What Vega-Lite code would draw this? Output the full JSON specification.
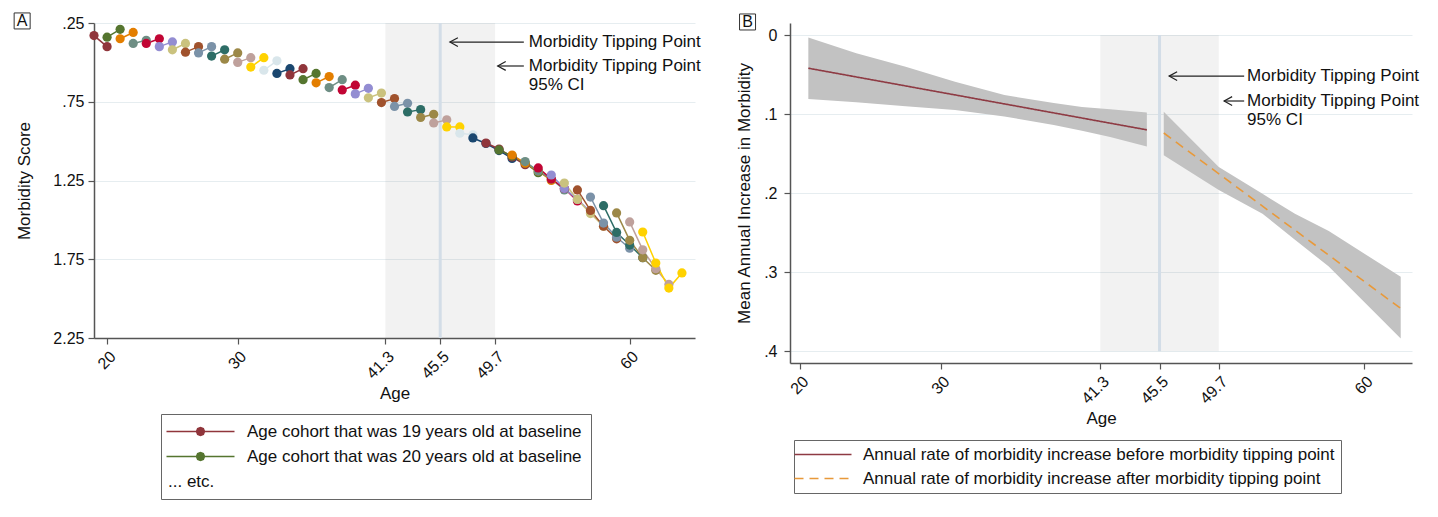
{
  "$schema": "https://vega.github.io/schema/vega-lite/v6.json",
  "padding": {"left": 12, "top": 10, "right": 5, "bottom": 5},
  "background": "white",
  "bounds": "flush",
  "spacing": 95,
  "config": {
    "font": "Liberation Sans",
    "view": {"stroke": null},
    "axis": {
      "labelFont": "Liberation Sans", "titleFont": "Liberation Sans",
      "labelFontSize": 16, "titleFontSize": 17, "titleFontWeight": "normal",
      "labelColor": "#111", "titleColor": "#111",
      "domainColor": "#555", "tickColor": "#555", "domainWidth": 1.5, "tickWidth": 1.2,
      "tickSize": 6, "labelPadding": 4, "gridColor": "#e6edf0", "gridWidth": 1
    },
    "legend": {"labelFont": "Liberation Sans", "labelFontSize": 17, "labelColor": "#111", "labelLimit": 0}
  },
  "resolve": {
    "scale": {"x": "independent", "y": "independent", "color": "independent", "strokeDash": "independent"},
    "legend": {"color": "independent", "strokeDash": "independent"}
  },
  "datasets": {
    "cohorts": [
      {"c":19,"age":19,"m":0.33},{"c":19,"age":20,"m":0.40},
      {"c":20,"age":20,"m":0.34},{"c":20,"age":21,"m":0.29},
      {"c":21,"age":21,"m":0.35},{"c":21,"age":22,"m":0.31},
      {"c":22,"age":22,"m":0.38},{"c":22,"age":23,"m":0.36},
      {"c":23,"age":23,"m":0.38},{"c":23,"age":24,"m":0.35},
      {"c":24,"age":24,"m":0.40},{"c":24,"age":25,"m":0.37},
      {"c":25,"age":25,"m":0.42},{"c":25,"age":26,"m":0.38},
      {"c":26,"age":26,"m":0.435},{"c":26,"age":27,"m":0.40},
      {"c":27,"age":27,"m":0.44},{"c":27,"age":28,"m":0.40},
      {"c":28,"age":28,"m":0.46},{"c":28,"age":29,"m":0.42},
      {"c":29,"age":29,"m":0.48},{"c":29,"age":30,"m":0.44},
      {"c":30,"age":30,"m":0.50},{"c":30,"age":31,"m":0.47},
      {"c":31,"age":31,"m":0.53},{"c":31,"age":32,"m":0.47},
      {"c":32,"age":32,"m":0.55},{"c":32,"age":33,"m":0.49},
      {"c":33,"age":33,"m":0.57},{"c":33,"age":34,"m":0.54},
      {"c":34,"age":34,"m":0.58},{"c":34,"age":35,"m":0.54},
      {"c":35,"age":35,"m":0.61},{"c":35,"age":36,"m":0.57},
      {"c":36,"age":36,"m":0.63},{"c":36,"age":37,"m":0.59},
      {"c":37,"age":37,"m":0.66},{"c":37,"age":38,"m":0.61},
      {"c":38,"age":38,"m":0.675},{"c":38,"age":39,"m":0.645},
      {"c":39,"age":39,"m":0.70},{"c":39,"age":40,"m":0.665},
      {"c":40,"age":40,"m":0.725},{"c":40,"age":41,"m":0.695},
      {"c":41,"age":41,"m":0.755},{"c":41,"age":42,"m":0.73},
      {"c":42,"age":42,"m":0.78},{"c":42,"age":43,"m":0.76},
      {"c":43,"age":43,"m":0.815},{"c":43,"age":44,"m":0.80},
      {"c":44,"age":44,"m":0.85},{"c":44,"age":45,"m":0.83},
      {"c":45,"age":45,"m":0.885},{"c":45,"age":46,"m":0.865},
      {"c":46,"age":46,"m":0.91},{"c":46,"age":47,"m":0.91},
      {"c":47,"age":47,"m":0.95},{"c":47,"age":48,"m":0.96},
      {"c":48,"age":48,"m":0.98},{"c":48,"age":49,"m":1.015},{"c":48,"age":50,"m":1.06},{"c":48,"age":51,"m":1.11},
      {"c":49,"age":49,"m":1.012},{"c":49,"age":50,"m":1.05},{"c":49,"age":51,"m":1.10},{"c":49,"age":52,"m":1.15},
      {"c":50,"age":50,"m":1.056},{"c":50,"age":51,"m":1.095},{"c":50,"age":52,"m":1.14},{"c":50,"age":53,"m":1.20},
      {"c":51,"age":51,"m":1.088},{"c":51,"age":52,"m":1.14},{"c":51,"age":53,"m":1.19},{"c":51,"age":54,"m":1.25},
      {"c":52,"age":52,"m":1.13},{"c":52,"age":53,"m":1.19},{"c":52,"age":54,"m":1.24},{"c":52,"age":55,"m":1.31},
      {"c":53,"age":53,"m":1.17},{"c":53,"age":54,"m":1.24},{"c":53,"age":55,"m":1.30},{"c":53,"age":56,"m":1.38},
      {"c":54,"age":54,"m":1.215},{"c":54,"age":55,"m":1.30},{"c":54,"age":56,"m":1.37},{"c":54,"age":57,"m":1.45},
      {"c":55,"age":55,"m":1.266},{"c":55,"age":56,"m":1.37},{"c":55,"age":57,"m":1.46},{"c":55,"age":58,"m":1.54},
      {"c":56,"age":56,"m":1.31},{"c":56,"age":57,"m":1.44},{"c":56,"age":58,"m":1.54},{"c":56,"age":59,"m":1.62},
      {"c":57,"age":57,"m":1.355},{"c":57,"age":58,"m":1.52},{"c":57,"age":59,"m":1.61},{"c":57,"age":60,"m":1.68},
      {"c":58,"age":58,"m":1.41},{"c":58,"age":59,"m":1.58},{"c":58,"age":60,"m":1.66},{"c":58,"age":61,"m":1.74},
      {"c":59,"age":59,"m":1.456},{"c":59,"age":60,"m":1.63},{"c":59,"age":61,"m":1.74},{"c":59,"age":62,"m":1.82},
      {"c":60,"age":60,"m":1.513},{"c":60,"age":61,"m":1.69},{"c":60,"age":62,"m":1.81},{"c":60,"age":63,"m":1.91},
      {"c":61,"age":61,"m":1.577},{"c":61,"age":62,"m":1.774},{"c":61,"age":63,"m":1.933},{"c":61,"age":64,"m":1.837}
    ],
    "bands": [
      {"series":"before","age":20.6,"v":0.003,"v2":0.081},
      {"series":"before","age":24,"v":0.023,"v2":0.085},
      {"series":"before","age":27.5,"v":0.040,"v2":0.090},
      {"series":"before","age":31,"v":0.059,"v2":0.095},
      {"series":"before","age":34.5,"v":0.076,"v2":0.103},
      {"series":"before","age":38,"v":0.086,"v2":0.114},
      {"series":"before","age":40,"v":0.091,"v2":0.121},
      {"series":"before","age":42,"v":0.094,"v2":0.129},
      {"series":"before","age":44.6,"v":0.098,"v2":0.141},
      {"series":"after","age":45.8,"v":0.097,"v2":0.152},
      {"series":"after","age":49.7,"v":0.167,"v2":0.196},
      {"series":"after","age":52.8,"v":0.201,"v2":0.226},
      {"series":"after","age":55.1,"v":0.226,"v2":0.259},
      {"series":"after","age":57.5,"v":0.248,"v2":0.293},
      {"series":"after","age":62.6,"v":0.306,"v2":0.384}
    ],
    "fits": [
      {"series":"Annual rate of morbidity increase before morbidity tipping point","age":20.6,"v":0.042},
      {"series":"Annual rate of morbidity increase before morbidity tipping point","age":44.6,"v":0.120},
      {"series":"Annual rate of morbidity increase after morbidity tipping point","age":45.8,"v":0.124},
      {"series":"Annual rate of morbidity increase after morbidity tipping point","age":62.6,"v":0.346}
    ]
  },
  "hconcat": [
    {
      "width": 601,
      "height": 315,
      "layer": [
        {
          "data": {"values": [{"age": 41.3, "age2": 49.7}]},
          "mark": {"type": "rect", "color": "#7f7f7f", "opacity": 0.1},
          "encoding": {
            "x": {"field": "age", "type": "quantitative",
              "scale": {"domain": [19, 65], "nice": false, "zero": false},
              "axis": {"title": "Age", "values": [20, 30, 41.3, 45.5, 49.7, 60], "labelAngle": -45, "labelExpr": "'' + datum.value", "grid": false, "titlePadding": 4}},
            "x2": {"field": "age2"}
          }
        },
        {
          "data": {"values": [{"age": 45.5}]},
          "mark": {"type": "rule", "color": "#d3dde7", "strokeWidth": 3},
          "encoding": {"x": {"field": "age", "type": "quantitative"}}
        },
        {
          "data": {"name": "cohorts"},
          "mark": {"type": "line", "strokeWidth": 1.5},
          "encoding": {
            "x": {"field": "age", "type": "quantitative"},
            "y": {"field": "m", "type": "quantitative",
              "scale": {"domain": [0.25, 2.25], "reverse": true, "nice": false, "zero": false},
              "axis": {"title": "Morbidity Score", "values": [0.25, 0.75, 1.25, 1.75, 2.25], "grid": true, "titlePadding": 19,
                "labelExpr": "datum.value < 1 ? replace(format(datum.value, '.2f'), '0.', '.') : format(datum.value, '.2f')"}},
            "color": {"field": "c", "type": "nominal",
              "scale": {"domain": [19,20,21,22,23,24,25,26,27,28,29,30,31,32,33,34,35,36,37,38,39,40,41,42,43,44,45,46,47,48,49,50,51,52,53,54,55,56,57,58,59,60,61],
                "range": ["#90353b","#55752f","#e37e00","#6e8e84","#c10534","#938dd2","#cac27e","#a0522d","#7b92a8","#2d6d66","#9c8847","#bfa19c","#ffd200","#d9e6eb","#1a476f"]},
              "legend": {"orient": "none", "legendX": 67, "legendY": 391, "title": null,
                "values": [19, 20, 999],
                "labelExpr": "datum.value == 999 ? '... etc.' : 'Age cohort that was ' + datum.value + ' years old at baseline'",
                "symbolType": "M-3,0H14M6.5,0L6.207,0.707L5.5,1L4.793,0.707L4.5,0L4.793,-0.707L5.5,-1L6.207,-0.707Z",
                "symbolSize": 64, "symbolStrokeWidth": 1.5, "labelOffset": 60, "labelLimit": 0,
                "strokeColor": "#666", "fillColor": "white", "padding": 9, "rowPadding": 7,
                "encode": {"labels": {"update": {"dx": {"signal": "datum.value == 999 ? -79 : 0"}}}}}
            }
          }
        },
        {
          "data": {"name": "cohorts"},
          "mark": {"type": "point", "filled": true, "size": 85, "opacity": 1},
          "encoding": {
            "x": {"field": "age", "type": "quantitative"},
            "y": {"field": "m", "type": "quantitative"},
            "color": {"field": "c", "type": "nominal"}
          }
        },
        {
          "data": {"values": [{"age": 46.24, "age2": 51.9, "m": 0.371}, {"age": 49.9, "age2": 51.9, "m": 0.523}]},
          "mark": {"type": "rule", "color": "#222", "strokeWidth": 1.2},
          "encoding": {
            "x": {"field": "age", "type": "quantitative"},
            "x2": {"field": "age2"},
            "y": {"field": "m", "type": "quantitative"}
          }
        },
        {
          "data": {"values": [{"age": 46.24, "m": 0.371}, {"age": 49.9, "m": 0.523}]},
          "mark": {"type": "point", "shape": "M2,-1.1L0,0L2,1.1", "size": 64, "filled": false, "stroke": "#222", "strokeWidth": 1.2, "opacity": 1},
          "encoding": {
            "x": {"field": "age", "type": "quantitative"},
            "y": {"field": "m", "type": "quantitative"}
          }
        },
        {
          "data": {"values": [
            {"age": 52.28, "m": 0.371, "t": "Morbidity Tipping Point"},
            {"age": 52.28, "m": 0.523, "t": "Morbidity Tipping Point"},
            {"age": 52.28, "m": 0.644, "t": "95% CI"}
          ]},
          "mark": {"type": "text", "align": "left", "baseline": "middle", "fontSize": 17, "color": "#111"},
          "encoding": {
            "x": {"field": "age", "type": "quantitative"},
            "y": {"field": "m", "type": "quantitative"},
            "text": {"field": "t"}
          }
        },
        {
          "data": {"values": [{"age": 13.5, "m": 0.237, "t": "A"}]},
          "mark": {"type": "point", "shape": "square", "size": 256, "filled": false, "stroke": "#333", "strokeWidth": 1, "opacity": 1},
          "encoding": {
            "x": {"field": "age", "type": "quantitative"},
            "y": {"field": "m", "type": "quantitative"}
          }
        },
        {
          "data": {"values": [{"age": 13.5, "m": 0.237, "t": "A"}]},
          "mark": {"type": "text", "align": "center", "baseline": "middle", "fontSize": 16, "color": "#111"},
          "encoding": {
            "x": {"field": "age", "type": "quantitative"},
            "y": {"field": "m", "type": "quantitative"},
            "text": {"field": "t"}
          }
        }
      ]
    },
    {
      "width": 622,
      "height": 340,
      "layer": [
        {
          "data": {"values": [{"age": 41.3, "age2": 49.7, "v": 0, "v2": 0.4}]},
          "mark": {"type": "rect", "color": "#7f7f7f", "opacity": 0.1},
          "encoding": {
            "x": {"field": "age", "type": "quantitative",
              "scale": {"domain": [19.3, 63.4], "nice": false, "zero": false},
              "axis": {"title": "Age", "values": [20, 30, 41.3, 45.5, 49.7, 60], "labelAngle": -45, "labelExpr": "'' + datum.value", "grid": false, "titlePadding": 4}},
            "x2": {"field": "age2"},
            "y": {"field": "v", "type": "quantitative",
              "scale": {"domain": [-0.0152, 0.415], "reverse": true, "nice": false, "zero": false},
              "axis": {"title": "Mean Annual Increase in Morbidity", "values": [0, 0.1, 0.2, 0.3, 0.4], "grid": true, "labelPadding": 7, "titlePadding": 10,
                "labelExpr": "datum.value == 0 ? '0' : replace(format(datum.value, '.1f'), '0.', '.')"}},
            "y2": {"field": "v2"}
          }
        },
        {
          "data": {"values": [{"age": 45.5, "v": 0, "v2": 0.4}]},
          "mark": {"type": "rule", "color": "#d3dde7", "strokeWidth": 3},
          "encoding": {
            "x": {"field": "age", "type": "quantitative"},
            "y": {"field": "v", "type": "quantitative"},
            "y2": {"field": "v2"}
          }
        },
        {
          "data": {"name": "bands"},
          "mark": {"type": "area", "color": "#c2c2c2", "opacity": 1},
          "encoding": {
            "x": {"field": "age", "type": "quantitative"},
            "y": {"field": "v", "type": "quantitative"},
            "y2": {"field": "v2"},
            "detail": {"field": "series"}
          }
        },
        {
          "data": {"name": "fits"},
          "mark": {"type": "line", "strokeWidth": 1.6},
          "encoding": {
            "x": {"field": "age", "type": "quantitative"},
            "y": {"field": "v", "type": "quantitative"},
            "color": {"field": "series", "type": "nominal",
              "scale": {"domain": ["Annual rate of morbidity increase before morbidity tipping point", "Annual rate of morbidity increase after morbidity tipping point"], "range": ["#8e3a43", "#e8993a"]},
              "legend": {"orient": "none", "legendX": 4, "legendY": 417, "title": null,
                "symbolType": "M-7,0H21.5", "symbolSize": 16, "symbolStrokeWidth": 1.6, "labelOffset": 46, "labelLimit": 0,
                "strokeColor": "#666", "fillColor": "white", "padding": 6, "rowPadding": 6}},
            "strokeDash": {"field": "series", "type": "nominal",
              "scale": {"domain": ["Annual rate of morbidity increase before morbidity tipping point", "Annual rate of morbidity increase after morbidity tipping point"], "range": [[1, 0], [9, 6]]},
              "legend": {"orient": "none", "legendX": 4, "legendY": 417, "title": null,
                "symbolType": "M-7,0H21.5", "symbolSize": 16, "symbolStrokeWidth": 1.6, "labelOffset": 46, "labelLimit": 0,
                "strokeColor": "#666", "fillColor": "white", "padding": 6, "rowPadding": 6}}
          }
        },
        {
          "data": {"values": [{"age": 46.18, "age2": 51.5, "v": 0.052}, {"age": 50.08, "age2": 51.5, "v": 0.0835}]},
          "mark": {"type": "rule", "color": "#222", "strokeWidth": 1.2},
          "encoding": {
            "x": {"field": "age", "type": "quantitative"},
            "x2": {"field": "age2"},
            "y": {"field": "v", "type": "quantitative"}
          }
        },
        {
          "data": {"values": [{"age": 46.18, "v": 0.052}, {"age": 50.08, "v": 0.0835}]},
          "mark": {"type": "point", "shape": "M2,-1.1L0,0L2,1.1", "size": 64, "filled": false, "stroke": "#222", "strokeWidth": 1.2, "opacity": 1},
          "encoding": {
            "x": {"field": "age", "type": "quantitative"},
            "y": {"field": "v", "type": "quantitative"}
          }
        },
        {
          "data": {"values": [
            {"age": 51.71, "v": 0.052, "t": "Morbidity Tipping Point"},
            {"age": 51.71, "v": 0.0835, "t": "Morbidity Tipping Point"},
            {"age": 51.71, "v": 0.1076, "t": "95% CI"}
          ]},
          "mark": {"type": "text", "align": "left", "baseline": "middle", "fontSize": 17, "color": "#111"},
          "encoding": {
            "x": {"field": "age", "type": "quantitative"},
            "y": {"field": "v", "type": "quantitative"},
            "text": {"field": "t"}
          }
        },
        {
          "data": {"values": [{"age": 16.29, "v": -0.0165, "t": "B"}]},
          "mark": {"type": "point", "shape": "square", "size": 256, "filled": false, "stroke": "#333", "strokeWidth": 1, "opacity": 1},
          "encoding": {
            "x": {"field": "age", "type": "quantitative"},
            "y": {"field": "v", "type": "quantitative"}
          }
        },
        {
          "data": {"values": [{"age": 16.29, "v": -0.0165, "t": "B"}]},
          "mark": {"type": "text", "align": "center", "baseline": "middle", "fontSize": 16, "color": "#111"},
          "encoding": {
            "x": {"field": "age", "type": "quantitative"},
            "y": {"field": "v", "type": "quantitative"},
            "text": {"field": "t"}
          }
        }
      ]
    }
  ]
}
